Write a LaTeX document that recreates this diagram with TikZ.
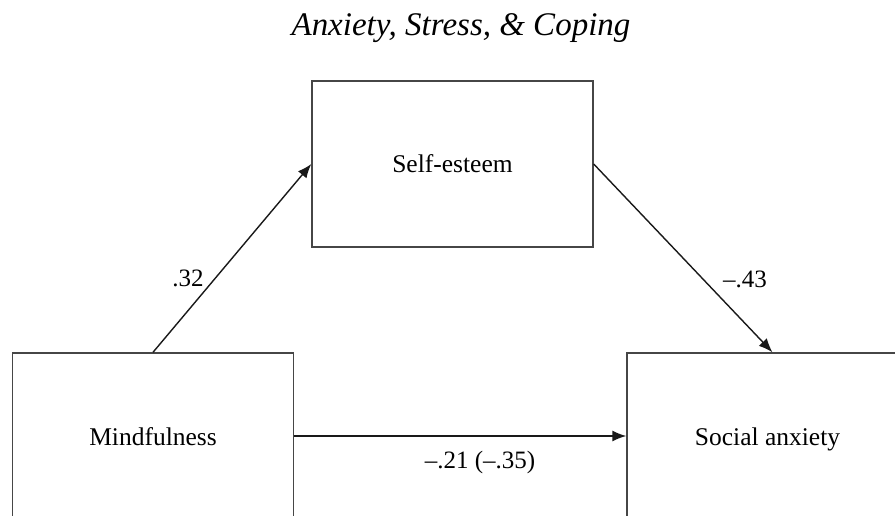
\documentclass[tikz,border=0pt]{standalone}
\usepackage{fontspec}
\setmainfont{Liberation Serif}
\usetikzlibrary{arrows.meta,positioning,calc}
\definecolor{boxline}{RGB}{70,70,70}
\tikzset{
  varbox/.style={draw=boxline,line width=1.4pt,minimum width=281pt,minimum height=166pt,align=center,font=\fontsize{25.5}{30}\selectfont,inner sep=0pt,text height=18pt,text depth=0pt},
  coef/.style={font=\fontsize{25}{30}\selectfont,inner sep=0pt},
  arr/.style={-{Latex[length=14pt,width=11pt]},draw=black!90,line width=1.4pt}
}
\begin{document}
\begin{tikzpicture}[x=1pt,y=-1pt]
  \useasboundingbox (0,0) rectangle (895,516);
  \clip (0,0) rectangle (895,516);
  \node[font=\fontsize{33}{40}\selectfont\itshape] (title) at (461,28) {Anxiety, Stress, \& Coping};
  \node[varbox] (selfest) at (452.5,164) {Self-esteem};
  \node[varbox] (mindful) at (153,436) {Mindfulness};
  \node[varbox] (socanx) at (767.5,436) {Social anxiety};
  \draw[arr] (mindful.north)--(selfest.west);
  \draw[arr] (selfest.east)--($(socanx.north)+(5,0)$);
  \draw[arr] (mindful.east)--(socanx.west);
  \node[coef] (cA) at (188,278) {.32};
  \node[coef] (cB) at (745,279) {–.43};
  \node[coef] (cC) at (480,462) {–.21 (–.35)};
\end{tikzpicture}
\end{document}
